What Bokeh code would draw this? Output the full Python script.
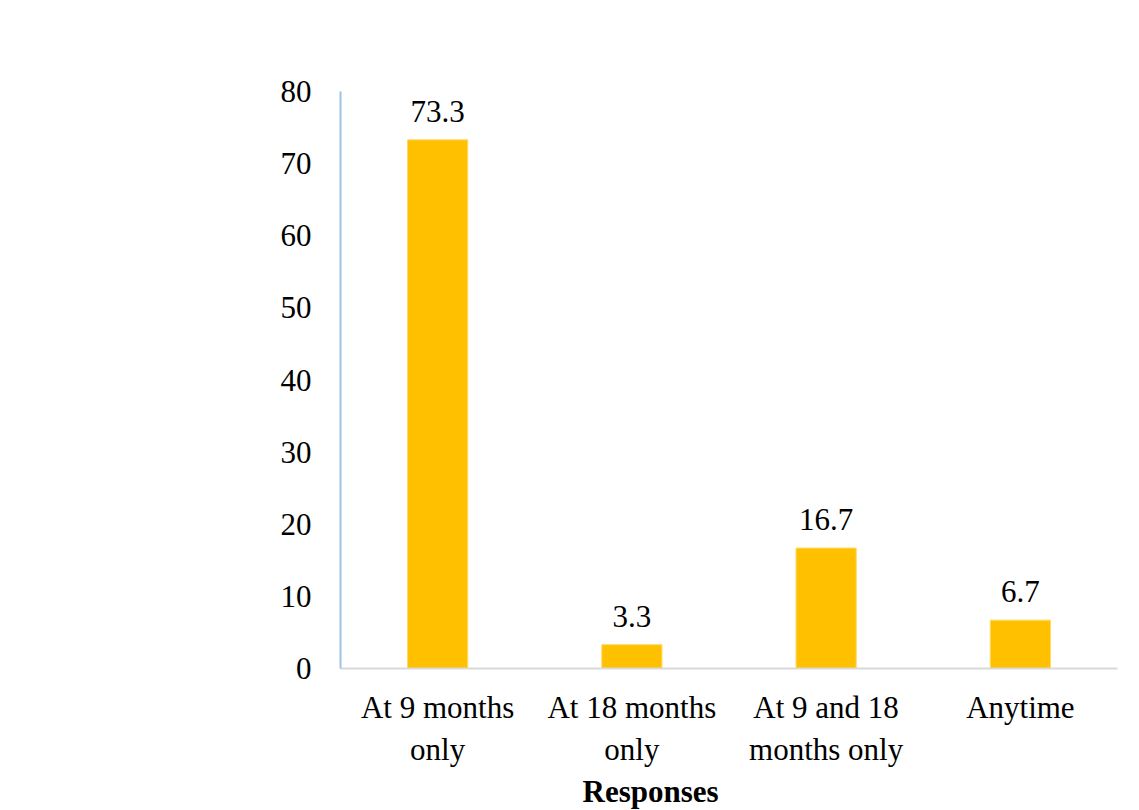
from bokeh.plotting import figure
from bokeh.models import ColumnDataSource, Title
from bokeh.embed import file_html
from bokeh.resources import INLINE

categories = ["At 9 months\nonly", "At 18 months\nonly", "At 9 and 18\nmonths only", "Anytime"]
values = [73.3, 3.3, 16.7, 6.7]
labels = ["73.3", "3.3", "16.7", "6.7"]
y_ticks = [0, 10, 20, 30, 40, 50, 60, 70, 80]

FONT = "Liberation Serif"
FS = "31px"

src = ColumnDataSource(dict(cat=categories, val=values, lab=labels))

p = figure(width=1139, height=810, x_range=categories, y_range=(0, 80),
           output_backend="svg", toolbar_location=None,
           min_border_left=340, min_border_right=22, min_border_top=91, min_border_bottom=0)
p.x_range.range_padding = 0
p.x_range.factor_padding = 0

p.vbar(x="cat", top="val", width=0.31, source=src, fill_color="#FFC000", line_color="#FFD966", line_width=1)
p.text(x="cat", y="val", text="lab", source=src, text_align="center", text_baseline="bottom",
       y_offset=-18, text_font=FONT, text_font_size=FS, text_color="black")

p.xgrid.visible = False
p.ygrid.visible = False
p.outline_line_color = None
p.background_fill_color = "white"
p.border_fill_color = "white"

ya = p.yaxis[0]
ya.ticker = y_ticks
ya.axis_line_color = "#9DC3E6"
ya.axis_line_width = 2
ya.major_tick_line_color = None
ya.minor_tick_line_color = None
ya.major_label_standoff = 23
ya.major_label_text_font = FONT
ya.major_label_text_font_size = FS
ya.major_label_text_color = "black"

xa = p.xaxis[0]
xa.axis_line_color = "#D9D9D9"
xa.axis_line_width = 2
xa.major_tick_line_color = None
xa.minor_tick_line_color = None
xa.major_label_standoff = 15
xa.major_label_text_font = FONT
xa.major_label_text_font_size = FS
xa.major_label_text_color = "black"

p.add_layout(Title(text="Responses", align="left", offset=242, standoff=4,
                   text_font=FONT, text_font_size=FS, text_font_style="bold", text_color="black"),
             "below")

open("out.html", "w").write(file_html(p, INLINE))
